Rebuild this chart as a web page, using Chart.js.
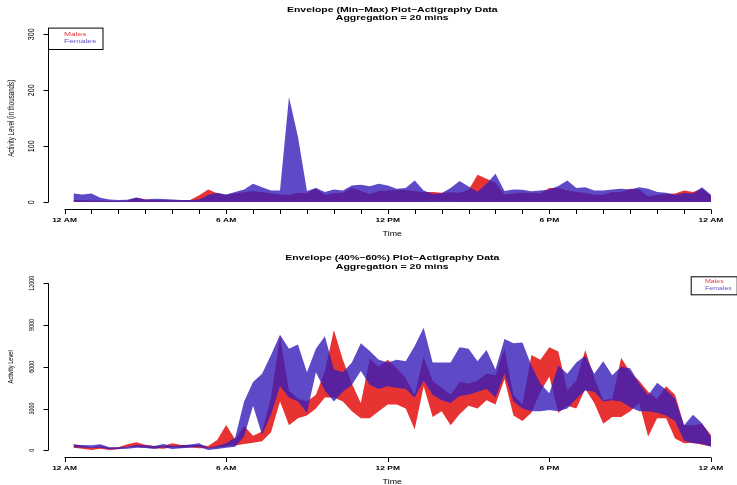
<!DOCTYPE html>
<html>
<head>
<meta charset="utf-8">
<script src="https://cdn.jsdelivr.net/npm/chart.js@4.4.0/dist/chart.umd.min.js"></script>
<style>
  html, body { margin: 0; padding: 0; background: #fff; }
  #wrap { position: relative; width: 737px; height: 485px; }
  .panel { position: absolute; left: 0; width: 737px; }
</style>
</head>
<body>
<div id="wrap">
  <div class="panel" style="top:0;height:243px"><canvas id="topChart"></canvas></div>
  <div class="panel" style="top:243px;height:242px"><canvas id="bottomChart"></canvas></div>
</div>
<script>
/* 20 minute bins */
var times = [
  '00:20','00:40','01:00','01:20','01:40','02:00','02:20','02:40','03:00','03:20','03:40','04:00',
  '04:20','04:40','05:00','05:20','05:40','06:00','06:20','06:40','07:00','07:20','07:40','08:00',
  '08:20','08:40','09:00','09:20','09:40','10:00','10:20','10:40','11:00','11:20','11:40','12:00',
  '12:20','12:40','13:00','13:20','13:40','14:00','14:20','14:40','15:00','15:20','15:40','16:00',
  '16:20','16:40','17:00','17:20','17:40','18:00','18:20','18:40','19:00','19:20','19:40','20:00',
  '20:20','20:40','21:00','21:20','21:40','22:00','22:20','22:40','23:00','23:20','23:40','24:00'
];

/* Min-Max envelope, in thousands */
var maleMinTop = [
  0.5,0.5,0.5,0.5,0.5,0.5,0.5,0.5,0.5,0.5,0.5,0.5,0.5,0.5,0.5,0.5,0.5,0.5,0.5,0.5,0.5,0.5,0.5,0.5,
  0.5,0.5,0.5,0.5,0.5,0.5,0.5,0.5,0.5,0.5,0.5,0.5,0.5,0.5,0.5,0.5,1,1,1,0.5,0.5,0.5,0.5,0.5,
  0.5,0.5,0.5,0.5,0.5,0.5,0.5,0.5,0.5,0.5,0.5,0.5,0.5,0.5,0.5,0.5,0.5,0.5,0.5,0.5,0.5,0.5,0.5,0.5
];
var maleMaxTop = [
  4,3.5,3,3,2.5,2.5,3,8,5,4,4,3.5,3.5,4,12.5,23,16,13,16,18,20,18,16,14,
  13,17,16,25,13,16,17,26,20,15,20,21,22,22,19.5,18.5,18.5,17,18,17,22,49,42,35,
  14,15.5,17,17,15.5,25.5,25.5,21,18.5,17,13.5,13.5,18.5,18.5,24,23,10.5,13.5,15,15.5,21,18.5,24,11.5
];
var femaleMinTop = [
  0.3,0.3,0.3,0.3,0.3,0.3,0.3,0.3,0.3,0.3,0.3,0.3,0.3,0.3,0.3,0.3,0.3,0.3,0.3,0.3,0.3,0.3,0.3,0.3,
  0.3,0.3,0.3,0.3,0.3,0.3,0.3,0.3,0.3,0.3,0.3,0.3,0.3,0.3,0.3,0.3,0.3,0.3,0.3,0.3,0.3,0.3,0.3,0.3,
  0.3,0.3,0.3,0.3,0.3,0.3,0.3,0.3,0.3,0.3,0.3,0.3,0.3,0.3,0.3,0.3,0.3,0.3,0.3,0.3,0.3,0.3,0.3,0.3
];
var femaleMaxTop = [
  15.5,14,15.5,8,5,4,4.5,8.5,5,6.5,6,5,4,4,5,13,17,14,18.5,23,33,27,21,21,
  188,117,20,25.5,18.5,23,21,30,31.5,28.5,33,30,24,25.5,39,21,15,16,25.5,38,28,19,33,51,
  20,23,22.5,19.5,21,23,29,39,25.5,27,21,21,23,24,23,27,24,18.5,17,13.5,16.5,15.5,27,13.5
];

/* 40%-60% envelope */
var male40 = [
  190,120,30,120,30,70,215,260,190,140,120,215,190,215,140,140,200,300,350,450,550,650,1300,3500,
  1800,2300,2500,3000,3800,3800,3500,2800,2300,2300,2800,3300,3300,3000,1500,4600,2400,2800,1800,2600,3200,3000,3600,3300,
  5100,2500,2100,2700,4200,5300,2700,3200,3000,4400,3400,1900,2400,2400,2800,3400,1000,2300,2300,850,500,550,400,270
];
var male60 = [
  455,310,200,310,190,215,430,575,400,310,310,500,380,380,380,310,740,1820,800,1750,1050,1350,3800,8200,
  4300,3700,3500,4000,5700,8650,6500,4800,3400,6600,6000,6500,5900,5200,4000,6700,5000,4500,4000,4900,4800,5000,5500,5400,
  7300,4000,3300,6850,6500,7400,7100,4300,5000,7200,5200,3600,3700,6650,5600,5000,4200,3700,4600,4000,1800,1800,1900,1100
];
var female40 = [
  215,190,170,190,70,90,120,190,170,100,215,100,140,190,260,20,90,190,250,1000,3200,1100,2600,4600,
  3800,3500,2700,5600,4300,3500,4200,4700,5700,4700,4400,4600,4500,4400,3800,5000,4000,3600,3400,3900,4000,4200,4400,3800,
  5500,3500,3000,2800,2800,2900,2800,3000,3700,4300,4200,3500,3600,3500,3100,2800,2800,2700,2500,2100,700,500,450,280
];
var female60 = [
  400,380,360,430,215,215,260,380,360,310,455,310,360,410,500,190,310,500,900,3500,4900,5500,6850,8300,
  7300,7600,5600,7300,8200,5800,5600,6300,7700,7140,6500,6300,6500,6400,7500,8800,6300,6300,6300,7400,7300,6400,7200,5800,
  8000,7700,7750,6100,4800,4100,6100,5500,6300,6800,5500,6400,5400,6000,5900,4800,3950,4850,4350,3700,1800,2550,1950,950
];

var hourTicks = [0,1,2,3,4,5,6,7,8,9,10,11,12,13,14,15,16,17,18,19,20,21,22,23,24];
var sixHourTicks = [0,6,12,18,24];
var timeLabels = ['12 AM','6 AM','12 PM','6 PM','12 AM'];
var topYTicks = [0,100,200,300];
var bottomYTicks = [0,3000,6000,9000,12000];

var MALE = 'rgba(226,0,0,0.8)';
var FEMALE = 'rgba(54,29,184,0.8)';
var SX = 1.4; // the picture's text is wider than it is tall

var hours = times.map(function (t) {
  var p = t.split(':');
  return +p[0] + p[1] / 60;
});

function xy(vals) {
  return vals.map(function (v, i) { return { x: hours[i], y: v }; });
}

function edge(label, vals, color, fill, order) {
  return {
    label: label,
    data: xy(vals),
    borderColor: 'rgba(0,0,0,0)',
    borderWidth: 0,
    backgroundColor: color,
    pointRadius: 0,
    tension: 0,
    fill: fill,
    order: order,
  };
}

function rText(ctx, s, x, y, font, color, align, vertical) {
  ctx.save();
  ctx.translate(x, y);
  ctx.scale(SX, 1);
  if (vertical) ctx.rotate(-Math.PI / 2);
  ctx.font = font;
  ctx.fillStyle = color;
  ctx.textAlign = align || 'center';
  ctx.textBaseline = 'middle';
  ctx.fillText(s, 0, 0);
  ctx.restore();
}

/* R style axes, titles and legend box */
var rStyle = {
  id: 'rStyle',
  afterDraw: function (chart, args, o) {
    var ctx = chart.ctx, a = chart.chartArea;
    var xs = chart.scales.x, ys = chart.scales.y;
    var yb = Math.round(a.bottom) + 0.5;
    var xl = Math.round(a.left) + 0.5;
    ctx.save();
    ctx.strokeStyle = '#000';
    ctx.lineWidth = 1;
    ctx.beginPath();
    ctx.moveTo(xs.getPixelForValue(o.xTicks[0]), yb);
    ctx.lineTo(xs.getPixelForValue(o.xTicks[o.xTicks.length - 1]), yb);
    o.xTicks.forEach(function (t) {
      var px = Math.round(xs.getPixelForValue(t)) + 0.5;
      ctx.moveTo(px, yb);
      ctx.lineTo(px, yb + 4.5);
    });
    ctx.moveTo(xl, ys.getPixelForValue(o.yTicks[0]));
    ctx.lineTo(xl, ys.getPixelForValue(o.yTicks[o.yTicks.length - 1]));
    o.yTicks.forEach(function (t) {
      var py = Math.round(ys.getPixelForValue(t)) + 0.5;
      ctx.moveTo(xl, py);
      ctx.lineTo(xl - 5, py);
    });
    ctx.stroke();

    o.xLabelTicks.forEach(function (t, i) {
      rText(ctx, o.xLabels[i], xs.getPixelForValue(t), yb + 11, 'bold 6px "Liberation Sans"', '#000');
    });
    o.yTicks.forEach(function (t) {
      rText(ctx, String(t), a.left - 16.5, ys.getPixelForValue(t), o.yTickFont, '#000', 'center', true);
    });

    var cx = (a.left + a.right) / 2;
    rText(ctx, o.title[0], cx, o.titleY[0], 'bold 7.5px "Liberation Sans"', '#000');
    rText(ctx, o.title[1], cx, o.titleY[1], 'bold 7.5px "Liberation Sans"', '#000');
    rText(ctx, 'Time', cx, yb + 24.5, '6.3px "Liberation Sans"', '#000');
    rText(ctx, o.yTitle, o.yTitleX, (a.top + a.bottom) / 2, o.yTitleFont, '#000', 'center', true);

    var L = o.legend;
    ctx.strokeRect(L.x + 0.5, L.y + 0.5, L.w, L.h);
    L.items.forEach(function (it, i) {
      rText(ctx, it[0], L.textX, L.textY + i * L.lineH, L.font, it[1], 'left');
    });
    ctx.restore();
  },
};

Chart.defaults.font.family = '"Liberation Sans", Arial, sans-serif';

function makeChart(id, lo1, hi1, lo2, hi2, yMin, yMax, padding, extra) {
  return new Chart(document.getElementById(id), {
    type: 'line',
    data: {
      datasets: [
        edge('Males', lo1, MALE, false, 2),
        edge('Males', hi1, MALE, '-1', 2),
        edge('Females', lo2, FEMALE, false, 1),
        edge('Females', hi2, FEMALE, '-1', 1),
      ],
    },
    options: {
      responsive: true,
      maintainAspectRatio: false,
      animation: false,
      events: [],
      layout: { padding: padding },
      scales: {
        x: { type: 'linear', min: -0.613, max: 24.947, display: false },
        y: { type: 'linear', min: yMin, max: yMax, display: false },
      },
      plugins: {
        legend: { display: false },
        title: { display: false },
        tooltip: { enabled: false },
        rStyle: extra,
      },
    },
    plugins: [rStyle],
  });
}

var topChart = makeChart('topChart', maleMinTop, maleMaxTop, femaleMinTop, femaleMaxTop, -12, 312,
  { left: 48, right: 0.5, top: 27.6, bottom: 34 },
  {
    xTicks: hourTicks, xLabelTicks: sixHourTicks, xLabels: timeLabels, yTicks: topYTicks,
    yTickFont: '7px "Liberation Sans"',
    title: ['Envelope (Min\u2212Max) Plot\u2212Actigraphy Data', 'Aggregation = 20 mins'],
    titleY: [9.5, 17.5],
    yTitle: 'Activity Level (in thousands)', yTitleX: 11.5, yTitleFont: '6.2px "Liberation Sans"',
    legend: {
      x: 48, y: 27.6, w: 54.5, h: 21.4, textX: 64, textY: 34.8, lineH: 7,
      font: '6px "Liberation Sans"', items: [['Males', MALE], ['Females', FEMALE]],
    },
  });

var bottomChart = makeChart('bottomChart', male40, male60, female40, female60, -480, 12480,
  { left: 48, right: 0.5, top: 33.6, bottom: 28 },
  {
    xTicks: sixHourTicks, xLabelTicks: sixHourTicks, xLabels: timeLabels, yTicks: bottomYTicks,
    yTickFont: '5.3px "Liberation Sans"',
    title: ['Envelope (40%\u221260%) Plot\u2212Actigraphy Data', 'Aggregation = 20 mins'],
    titleY: [14.8, 23.7],
    yTitle: 'Activity Level', yTitleX: 10.5, yTitleFont: '5.7px "Liberation Sans"',
    legend: {
      x: 690.7, y: 33.3, w: 46, h: 18, textX: 705, textY: 39, lineH: 6.3,
      font: '5px "Liberation Sans"', items: [['Males', MALE], ['Females', FEMALE]],
    },
  });
</script>
</body>
</html>
